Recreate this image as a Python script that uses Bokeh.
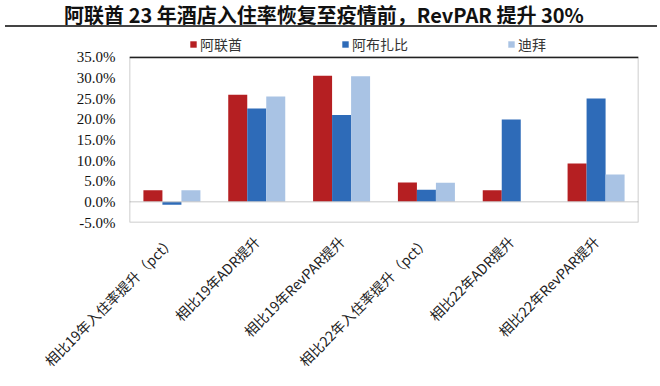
from bokeh.plotting import figure
from bokeh.layouts import column
from bokeh.models import (ColumnDataSource, Range1d, FactorRange, Span, Legend, LegendItem,
                          PrintfTickFormatter, FixedTicker, Div, BoxAnnotation)
from bokeh.transform import dodge
from bokeh.embed import file_html
from bokeh.resources import INLINE
import math

title_text = "阿联酋 23 年酒店入住率恢复至疫情前，RevPAR 提升 30%"
categories = ["相比19年入住率提升（pct）", "相比19年ADR提升", "相比19年RevPAR提升",
              "相比22年入住率提升（pct）", "相比22年ADR提升", "相比22年RevPAR提升"]
series_names = ["阿联酋", "阿布扎比", "迪拜"]
uae = [2.8, 25.9, 30.5, 4.7, 2.8, 9.3]
abu_dhabi = [-0.7, 22.6, 21.0, 2.9, 19.9, 25.0]
dubai = [2.8, 25.5, 30.4, 4.6, 0.0, 6.6]
y_ticks = [-5, 0, 5, 10, 15, 20, 25, 30, 35]
colors = ["#B51F22", "#2E6BB8", "#A9C3E4"]

W = 652
# ---- title ----
t = Div(text=title_text, width=W, height=22,
        styles={"font-family": "'Noto Sans CJK SC'", "font-weight": "bold",
                "font-size": "20px", "line-height": "20px", "text-align": "center",
                "color": "#111111", "border-bottom": "2px solid #444444",
                "box-sizing": "border-box", "padding-right": "14px",
                "white-space": "nowrap", "overflow": "visible"})

# ---- main chart ----
src = ColumnDataSource(dict(cat=categories, uae=uae, ad=abu_dhabi, db=dubai))
p = figure(width=W, height=348, output_backend="svg", toolbar_location=None,
           x_range=FactorRange(*categories), y_range=Range1d(-5, 40.0),
           min_border_left=129, min_border_right=14, min_border_top=4, min_border_bottom=155)
p.title.visible = False
bw = 0.224
r1 = p.vbar(x=dodge("cat", -bw, range=p.x_range), top="uae", width=bw, source=src,
            color=colors[0], line_color=None)
r2 = p.vbar(x=dodge("cat", 0, range=p.x_range), top="ad", width=bw, source=src,
            color=colors[1], line_color=None)
r3 = p.vbar(x=dodge("cat", bw, range=p.x_range), top="db", width=bw, source=src,
            color=colors[2], line_color=None)
p.add_layout(Span(location=0, dimension="width", line_color="#C8C8C8", line_width=1))
p.add_layout(BoxAnnotation(bottom=y_ticks[0], top=y_ticks[-1], fill_alpha=0,
                           line_color="#222222", line_width=1.5))
# top edge of the plot box (at the highest tick)
p.hspan(y=[y_ticks[-1]], line_color="#222222", line_width=1.5)

p.grid.visible = False
p.outline_line_color = None

p.yaxis.ticker = FixedTicker(ticks=y_ticks)
p.yaxis.formatter = PrintfTickFormatter(format="%.1f%%")
p.yaxis.major_label_text_font = "Liberation Serif"
p.yaxis.major_label_text_font_size = "15px"
p.yaxis.major_label_text_color = "#111111"
p.yaxis.axis_line_color = None
p.yaxis.major_tick_line_color = None
p.yaxis.minor_tick_line_color = None
p.yaxis.major_tick_out = 0
p.yaxis.major_tick_in = 0
p.yaxis.minor_tick_out = 0
p.yaxis.major_label_standoff = 14

p.xaxis.major_label_orientation = math.pi / 4
p.xaxis.major_label_text_font = "Noto Sans CJK SC"
p.xaxis.major_label_text_font_size = "14px"
p.xaxis.major_label_text_color = "#222222"
p.xaxis.axis_line_color = None
p.xaxis.major_tick_line_color = None
p.xaxis.major_tick_out = 0
p.xaxis.major_tick_in = 0
p.xaxis.major_label_standoff = 16

legend = Legend(items=[LegendItem(label=series_names[0], renderers=[r1]),
                       LegendItem(label=series_names[1], renderers=[r2]),
                       LegendItem(label=series_names[2], renderers=[r3])],
                orientation="horizontal", location=(60, 168), spacing=99,
                glyph_width=8, glyph_height=8, label_standoff=3, label_height=14,
                label_text_font="Noto Sans CJK SC", label_text_font_size="14px",
                label_text_color="#333333", padding=2, margin=0,
                background_fill_alpha=0, border_line_color=None)
p.add_layout(legend, "center")

out = column(t, p, spacing=0)
open("out.html", "w").write(file_html(out, INLINE))
